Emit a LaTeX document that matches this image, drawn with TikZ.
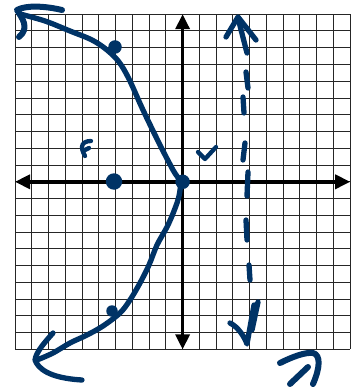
\documentclass[tikz,border=0pt]{standalone}
\usetikzlibrary{arrows.meta}
\definecolor{ink}{RGB}{0,51,102}
\begin{document}
\begin{tikzpicture}[x=1pt,y=-1pt,
  gridline/.style={draw=black!85,line width=0.95pt},
  axisline/.style={draw=black,line width=3.4pt,{Triangle[length=15pt,width=14pt]}-{Triangle[length=15pt,width=14pt]}},
  pen/.style={draw=ink,line width=5.3pt,line cap=round,line join=round},
  dot/.style={circle,fill=ink,inner sep=0pt}]
\useasboundingbox (0,0) rectangle (354,387);
\fill[white] (0,0) rectangle (354,387);
% grid
\foreach \i in {0,...,20} {
  \draw[gridline] ({15+16.76*\i},14.2) -- ({15+16.76*\i},349.4);
  \draw[gridline] (15,{14.2+16.76*\i}) -- (350.2,{14.2+16.76*\i});
}
% axes
\coordinate (xl) at (15,181.8);
\coordinate (xr) at (350.2,181.8);
\coordinate (yt) at (182.6,14.2);
\coordinate (yb) at (182.6,349.4);
\draw[axisline] (xl) -- (xr);
\draw[axisline] (yt) -- (yb);
% main curve
\draw[pen] plot[smooth,tension=0.55] coordinates {
  (20,14) (45,21) (70,31) (92,40) (107,50) (119,62) (129,79) (143,110)
  (160,145) (173,170) (180,182) (179,196) (174,211) (167,227) (157,245)
  (149,265) (140,283) (130,300) (120,313) (103,326) (87,335) (70,343)
  (53,353) (37,360)};
% top-left arrowhead
\draw[pen,line width=6pt] (62,10) .. controls (45,6) and (26,5) .. (17,10)
  .. controls (22,18) and (30,28) .. (19,37);
% bottom-left arrowhead
\draw[pen] (53,333) .. controls (45,342) and (36,352) .. (35,360)
  .. controls (38,368) and (48,378) .. (82,380);
% dots
\node[dot,minimum size=13.5pt] (p1) at (115,47) {};
\node[dot,minimum size=14.5pt] (p0) at (182.6,181.8) {};
\node[dot,minimum size=16.5pt] (p2) at (114,181.5) {};
\node[dot,minimum size=11.5pt] (p3) at (112,311) {};
% dashed vertical line (hand drawn)
\draw[pen] (226,37) -- (238,17) -- (256,40);
\draw[pen] (238,18) -- (247,53);
\draw[pen] (246,72) -- (248,88);
\draw[pen] (243,97) -- (244,113);
\draw[pen] (245,143) -- (243,160);
\draw[pen] (248,172) -- (247,196);
\draw[pen] (246,220) -- (247,240);
\draw[pen] (249,265) -- (250,280);
\draw[pen] (230,323) .. controls (238,327) and (244,336) .. (247,344) -- (254,305);
\draw[pen] (258,302) -- (252,330);
% check mark
\draw[pen,line width=4.3pt] (198,152) -- (205,159) -- (216,147);
% F mark
\draw[pen,line width=4.3pt] (91,141) .. controls (86,141) and (82,143) .. (82,147)
  .. controls (82,151) and (84,154) .. (85,156);
\draw[pen,line width=4.3pt] (83,151) -- (89,148);
% bottom-right mark
\draw[pen,line width=6pt] (280,363) .. controls (292,357) and (305,352) .. (313,353)
  .. controls (321,355) and (320,368) .. (313,384);
\draw[pen,line width=6pt] (290,384) -- (308,367);
\end{tikzpicture}
\end{document}
